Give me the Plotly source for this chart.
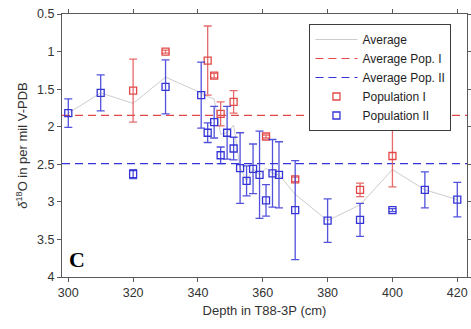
import plotly.graph_objects as go

# ---------------- data ----------------
# Population I (red)
pop1_depth = [320, 330, 343, 345, 347, 351, 361, 370, 390, 400]
pop1_d18o  = [1.52, 1.00, 1.12, 1.32, 1.83, 1.67, 2.13, 2.70, 2.84, 2.39]
pop1_err   = [0.42, 0.02, 0.46, 0.03, 0.16, 0.15, 0.02, 0.03, 0.09, 0.41]

# Population II (blue)
pop2_depth = [300, 310, 320, 330, 341, 343, 345, 347, 349, 351, 353, 355, 357, 359,
              361, 363, 365, 370, 380, 390, 400, 410, 420]
pop2_d18o  = [1.82, 1.55, 2.63, 1.47, 1.58, 2.08, 1.94, 2.38, 2.08, 2.29, 2.55, 2.72,
              2.56, 2.64, 2.98, 2.62, 2.64, 3.11, 3.25, 3.24, 3.11, 2.84, 2.97]
pop2_err   = [0.19, 0.24, 0.06, 0.36, 0.44, 0.13, 0.21, 0.11, 0.35, 0.15, 0.47, 0.20,
              0.33, 0.58, 0.21, 0.45, 0.44, 0.66, 0.29, 0.22, 0.02, 0.24, 0.23]

# Average curve (gray)
avg_depth = [300, 310, 320, 330, 341, 343, 345, 347, 349, 351, 353, 355, 357, 359,
             361, 363, 365, 370, 380, 390, 400, 410, 420]
avg_d18o  = [1.82, 1.55, 1.69, 1.34, 1.55, 1.60, 1.63, 2.10, 2.08, 1.98, 2.55, 2.72,
             2.56, 2.64, 2.55, 2.62, 2.64, 2.90, 3.25, 3.04, 2.57, 2.84, 2.97]

avg_pop1 = 1.85
avg_pop2 = 2.49

x_range = [298.06, 423.0]
y_range = [4.0, 0.5]
x_ticks = [300, 320, 340, 360, 380, 400, 420]
y_ticks = [0.5, 1, 1.5, 2, 2.5, 3, 3.5, 4]

RED = "rgb(226,72,72)"
RED_ERR = "rgba(226,80,80,0.85)"
BLUE = "rgb(52,52,215)"
BLUE_ERR = "rgba(52,52,215,0.85)"
GRAY = "rgb(205,205,205)"

fig = go.Figure()

fig.add_trace(go.Scatter(
    x=avg_depth, y=avg_d18o, mode="lines", name="Average",
    line=dict(color=GRAY, width=1)))

fig.add_trace(go.Scatter(
    x=x_range, y=[avg_pop1, avg_pop1], mode="lines", name="Average Pop. I",
    line=dict(color=RED, width=1.2, dash="8px,5px")))

fig.add_trace(go.Scatter(
    x=x_range, y=[avg_pop2, avg_pop2], mode="lines", name="Average Pop. II",
    line=dict(color=BLUE, width=1.2, dash="8px,5px")))

fig.add_trace(go.Scatter(
    x=pop1_depth, y=pop1_d18o, mode="markers", name="Population I",
    marker=dict(symbol="square-open", size=7, color=RED, line=dict(width=1.3, color=RED)),
    error_y=dict(type="data", array=pop1_err, visible=True, color=RED_ERR,
                 thickness=1.3, width=4)))

fig.add_trace(go.Scatter(
    x=pop2_depth, y=pop2_d18o, mode="markers", name="Population II",
    marker=dict(symbol="square-open", size=7, color=BLUE, line=dict(width=1.3, color=BLUE)),
    error_y=dict(type="data", array=pop2_err, visible=True, color=BLUE_ERR,
                 thickness=1.3, width=4)))

axis_common = dict(
    showgrid=False, zeroline=False, showline=True, linecolor="rgb(90,90,90)",
    linewidth=1, mirror="ticks", ticks="outside", ticklen=4, tickcolor="rgb(90,90,90)",
    automargin=False,
    tickfont=dict(family="Liberation Sans, Arial", size=12.5, color="rgb(50,50,50)"))

fig.update_layout(
    width=471, height=329,
    margin=dict(l=62, r=4, t=14, b=52, autoexpand=False),
    paper_bgcolor="white", plot_bgcolor="white",
    font=dict(family="Liberation Sans, Arial", color="rgb(50,50,50)"),
    xaxis=dict(range=x_range, tickvals=x_ticks,
               title=dict(text="Depth in T88-3P (cm)", font=dict(size=13), standoff=6),
               **axis_common),
    yaxis=dict(range=y_range, tickvals=y_ticks,
               ticktext=[f"{v:g}" for v in y_ticks],
               title=dict(text="<i>δ</i><sup>18</sup>O in per mil V-PDB", font=dict(size=13), standoff=6),
               **axis_common),
    legend=dict(x=0.611, y=0.962, xanchor="left", yanchor="top",
                bgcolor="white", bordercolor="rgb(60,60,60)", borderwidth=1,
                font=dict(family="Liberation Sans, Arial", size=12, color="rgb(30,30,30)"),
                itemwidth=42, tracegroupgap=0),
    showlegend=True,
    annotations=[dict(x=302.8, y=3.77, xref="x", yref="y", text="<b>C</b>",
                      showarrow=False,
                      font=dict(family="Liberation Serif, Times New Roman", size=22, color="black"))],
)

fig.write_html("out.html")
